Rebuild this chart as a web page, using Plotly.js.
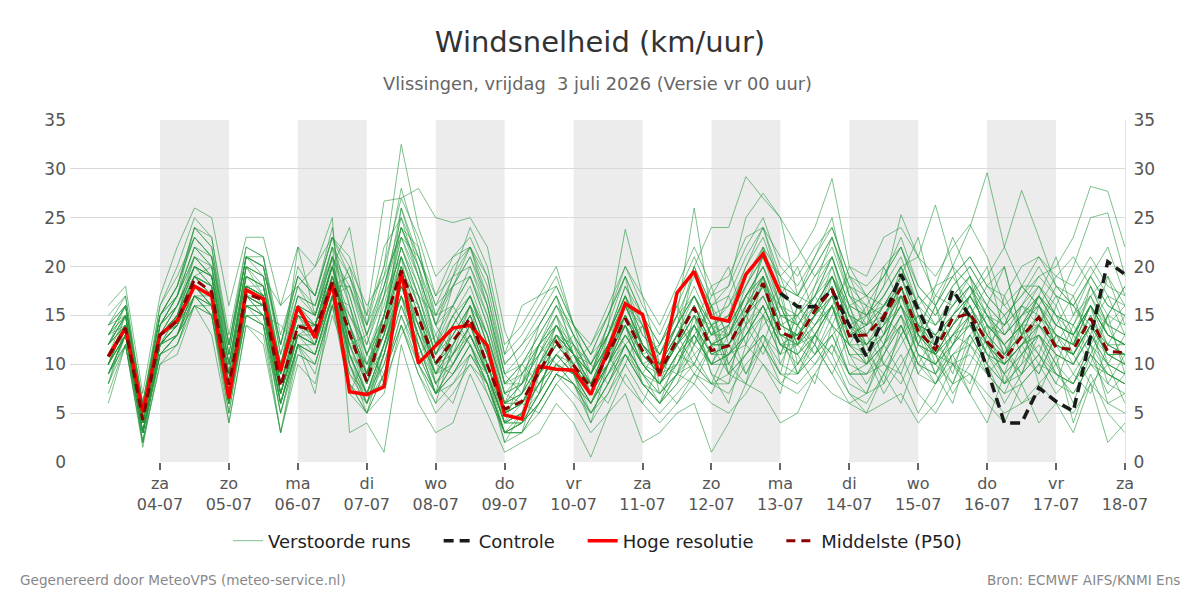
<!DOCTYPE html>
<html><head><meta charset="utf-8">
<script src="https://cdn.plot.ly/plotly-3.0.1.min.js"></script>
<style>html,body{margin:0;padding:0;background:#fff}#chart{width:1200px;height:600px}</style>
</head><body><div id="chart"></div>
<script>
// ---- data ----
const startTime = '2026-07-03T06:00:00Z';
const stepHours = 6;

const hiresValues = [10.8,13.7,5.1,13.0,14.5,18.0,17.0,6.5,17.6,16.7, 9.3,15.9,12.7,18.3,7.2,6.9,7.7,19.5,10.1,11.9,
  13.7,14.0,11.9,4.8,4.4,9.8,9.5,9.4,6.9,11.5, 16.2,15.1,8.8,17.3,19.5,14.8,14.4,19.2,21.3,17.3];

const controlStartIndex = 39;
const controlValues = [17.3,15.9,15.9,17.6,14.0,10.8,14.8,19.2,15.6,12.0,17.6,14.9,9.5,4.0,4.0,7.6,6.2,5.2,12.8,20.5,19.2];

const medianValues = [10.8,13.7,4.3,13.0,14.4,18.7,17.4,7.9,17.2,16.6, 7.7,13.9,13.4,18.4,13.2,8.2,14.0,19.6,14.8,10.1,
  12.4,14.7,9.9,5.4,6.2,9.2,12.3,9.9,7.6,11.0, 14.7,11.4,9.2,12.5,15.8,11.4,11.9,15.2,18.3,13.3,
  12.5,15.5,17.7,12.9,13.0,14.9,17.8,13.4,11.5,14.7, 15.2,12.3,10.5,12.8,14.8,11.7,11.5,14.7,11.3,11.2];

const member01 = [11,14,4,13,15,19,18,8,18,17,8,14,13,19, 13,8,14,20,15,10,12,15,10,5, 6,9,12,10,8,11,15,11,9,13, 16,12,12,15,18,13,13,15,18,13, 13,15,18,12,10,13,15,11,10,12, 15,12,11,15,11,11];
const member02 = [9,13,3,12,14,17,16,6,16,15,6,12,12,17, 18,12,17,26,21,16,18,19,15,8, 10,13,16,12,9,14,23.8,17,10,14, 17,14,15,20,24,18,17,21,25,17, 16,15,18,13,11,14,17,14,12,14, 16,13,12,16,13,12];
const member03 = [13,16,6,15,17,22,20,10,20,19,10,17,16,21, 10,6,9,15,10,7,9,12,8,3, 4,6,9,8,5,8,12,8,6,8, 10,8,7,10,12,9,8,10,12,8, 7,8,11,7,5,8,9,7,5,6, 8,6,5,8,6,5];
const member04 = [8,12,2,10,12,16,15,5,15,14,5,11,10,16, 20,13,19,28,22,15,18,22,16,9, 11,14,17,13,10,14,19,15,12,15, 19,16,18,25,27.5,25,22,19,21,15, 14,16,19,14,12,15,17,14,12,14, 17,14,13,16,13,12];
const member05 = [12,15,5,14,17,24,22,11,21,20,11,18,15,22, 8,5,7,14,9,5,7,10,7,3, 3,5,8,6,3,5,9,6,4,6, 8,6,5,7,10,8,7,9,12,9, 10,12,15,12,11,14,17,15,14,18, 18,16,20,25,25.5,19];
const member06 = [10,14,3,12,13,18,17,7,17,16,7,13,14,18, 18,14,20,32.5,24,19,21,22,19,11, 16,17,20,14,11,13,17,12,9,12, 14,11,11,14,16,12,11,13,16,11, 10,12,14,10,8,11,13,10,8,10, 12,9,8,11,9,8];
const member07 = [14,17,5,16,20,25,23,13,22,21,12,20,17,24, 11,7,12,18,13,9,10,14,9,4, 5,8,10,9,6,10,12,9,8,11, 13,10,11,13,16,12,13,11,14,12, 15,17,20,16,18,19,16,13,11,15, 16,19,21,18,14,16];
const member08 = [10,13,4,11,13,17,16,8,16,15,8,13,11,17, 16,11,15,22,17,11,14,17,12,6, 7,10,13,11,8,11,15,12,10,13, 16,13,15,18,21,19,21,24,29,20, 19,23,24,21,17,16,18,13,10,12, 13,10,8,12,10,9];
const member09 = [6,12,1.5,11,12,17,15,4,14,13,3,12,9,16, 12,8,13,19,14,10,11,14,10,5, 6,9,11,10,7,10,14,10,8,11, 14,10,11,13,16,12,12,14,16,13, 14,15,17,14,17,20,24,29.6,22,18, 16,14,13,17,13,12];
const member10 = [11,14,5,13,16,20,19,9,19,18,9,16,15,20, 14,9,13,21,16,10,13,16,11,6, 7,10,12,10,8,12,16,12,9,12, 15,12,13,16,18,14,13,15,17,14, 12,14,16,13,12,15,17,19,22,27.8, 23,18,16,14,12,11];
const member11 = [9,13,3,12,14,18,17,6,18,16,6,13,12,18, 19,15,26.7,27,28,25,24.5,25,22,13.5, 9,12,14,11,9,12,15,11,9,12, 14,11,12,15,17,13,12,14,16,12, 11,13,16,12,11,13,14,12,10,12, 13,11,10,13,11,10];
const member12 = [16,18,7,17,22,26,25,16,23,23,16,22,20,25, 3,4,1,12,6,3,4,9,5,1, 2,3,6,4,0.5,5,7,2,3,5, 6,1,4,8,7,4,5,9,7,6, 5,6,7,4,6,10,9,6,4,8, 4,6,3,8,2,4];
const member13 = [12,14,4,13,15,19,18,7,17,17,7,14,13,19, 14,9,15,22,17,12,14,17,12,6, 7,10,13,11,8,12,15,12,10,14, 20,24,24,29.2,27,25,17,16,14,12, 10,12,15,11,10,13,16,12,11,13, 14,12,11,14,12,11];
const member14 = [10,15,3,12,15,21,19,9,20,17,10,15,12,21, 11,7,12,18,13,9,11,14,10,5, 6,8,11,9,7,10,13,10,8,11, 14,11,12,14,17,13,13,16,19,14, 15,18,25.3,21,26.3,20,18,16,14,16, 15,13,12,16,13,12];
const member15 = [7,12,2,10,11,16,13,4,14,12,3,10,8,15, 10,6,11,17,12,8,10,13,9,4, 5,8,10,9,6,9,13,10,8,10, 13,10,10,13,16,12,11,14,17,12, 12,13,16,11,10,12,14,11,10,16, 19,20,23,28.2,27.7,22];
const member16 = [11,14,4,14,16,19,20,8,18,18,8,15,14,20, 12,8,12,19,14,9,12,15,10,5, 6,9,12,10,7,11,14,11,9,12, 15,11,12,15,17,13,13,15,18,13, 14,17,20,21,19,22,24.3,21,16,14, 14,12,11,14,11,10];
const member17 = [13,15,5,13,14,18,16,7,17,15,8,14,13,18, 15,11,14,18,13,9,14,17,13,7, 8,11,13,11,9,12,14,10,8,13, 10,14,9,11,14,16,12,10,13,15, 11,9,13,15,10,8,12,16,11,9, 14,17,13,10,15,18];
const member18 = [9,13,3,11,13,17,16,6,16,15,6,12,11,17, 8,6,12,17,14,10,9,12,7,3, 4,6,9,11,10,8,11,9,6,8, 12,14,10,13,15,11,12,13,16,10, 9,12,17,14,11,10,13,15,12,9, 11,8,7,10,9,8];
const member19 = [12,16,6,15,18,23,21,12,21,20,12,19,17,23, 16,10,15,23,19,14,19,20,16,8, 8,12,15,11,7,10,15,12,10,14, 17,13,13,17,19,15,14,16,19,15, 12,15,18,13,11,14,16,12,9,11, 14,11,10,13,10,9];
const member20 = [10,14,4,12,14,19,17,7,17,16,7,13,12,18, 11,7,10,16,12,7,10,13,9,3, 5,7,10,8,6,9,11,8,7,9, 8,12,9,14,11,15,9,13,11,16, 12,8,14,10,13,9,15,11,8,12, 9,13,10,14,8,11];
const member21 = [11,13,3,13,15,18,17,8,18,17,8,14,14,19, 13,9,14,21,17,11,13,16,11,6, 6,10,13,11,8,10,14,11,9,12, 16,12,12,15,19,14,15,17,21,16, 17,16,18,14,13,16,18,15,13,15, 18,15,14,18,15,14];
const member22 = [8,14,2,12,13,18,16,6,17,15,5,12,11,17, 9,6,10,16,11,7,9,12,8,3, 4,7,10,9,5,8,12,9,7,9, 12,16,9,8,15,18,10,12,19,16, 11,7,10,13,9,6,12,14,8,10, 16,12,9,7,12,15];
const member23 = [14,15,5,14,17,21,19,10,19,18,10,16,15,20, 24,14,22,25,19,12,16,19,14,7, 9,11,14,11,9,12,16,12,10,13, 16,12,13,16,19,14,13,15,18,13, 12,14,17,12,11,13,15,12,10,12, 14,12,11,14,11,10];
const member24 = [10,13,3,12,14,17,17,8,16,16,7,13,12,18, 11,6,11,17,12,7,10,13,9,4, 4,7,10,8,6,9,12,9,7,10, 14,9,6,12,10,7,14,12,9,6, 7,12,9,5,8,11,7,4,9,6, 7,11,4,9,5,3];
const member25 = [12,14,4,13,16,20,19,9,19,17,9,15,14,20, 13,9,15,22,18,13,16,19,14,8, 9,12,15,12,9,13,17,14,11,14, 17,13,14,17,20,15,15,18,21,16, 15,16,19,15,13,15,17,14,12,14, 17,14,13,16,13,12];
const member26 = [9,12,3,11,13,16,15,6,15,14,6,12,10,16, 7,5,9,15,11,7,9,11,8,3, 4,6,9,7,5,7,10,7,5,7, 9,12,14,9,12,17,11,8,14,18, 13,10,8,12,16,10,7,12,9,14, 11,8,13,16,10,6];
const member27 = [13,16,5,15,18,24,23,12,22,21,13,19,17,23, 19,13,18,24,20,15,19,22,17,10, 12,14,17,13,10,13,18,14,11,15, 26,15,16,20,23,18,17,20,23,18, 17,19,22,17,15,18,20,17,15,17, 19,17,16,19,16,15];
const member28 = [11,14,4,13,15,19,18,8,18,17,8,14,14,19, 14,10,14,20,15,10,12,15,11,5, 6,9,12,10,7,11,14,10,9,12, 20,16,13,18,22,19,14,11,15,20, 17,13,19,23,16,12,15,18,20,13, 10,14,17,12,15,18];
const member29 = [10,13,3,12,14,18,17,7,17,16,7,13,12,18, 12,7,12,18,14,8,11,14,9,4, 5,8,11,9,7,10,13,10,8,11, 13,16,10,8,12,9,16,13,10,7, 6,9,12,15,11,8,13,10,6,9, 13,10,6,11,15,9];
const member30 = [15,17,6,16,19,23,21,11,21,21,11,17,16,22, 17,11,16,23,18,12,15,18,13,7, 8,11,14,11,9,12,16,12,10,13, 17,13,14,17,20,15,14,17,20,15, 14,16,19,14,13,15,17,14,12,14, 16,13,12,16,12,12];
const member31 = [12,15,5,14,16,20,19,9,20,18,9,16,14,20, 15,12,18,24,19,14,11,16,13,6, 8,14,17,11,7,13,18,15,9,10, 14,18,12,16,21,17,20,15,19,14, 10,13,18,12,16,20,14,10,17,13, 11,16,12,18,14,10];
const member32 = [9,12,3,11,12,17,15,6,15,14,3,11,10,16, 9,7,8,13,16,8,6,11,9,2, 3,9,11,13,8,6,10,14,8,6, 9,7,11,15,12,8,10,13,11,7, 5,9,6,11,8,12,15,9,11,14, 8,10,14,11,7,9];
const member33 = [13,14,4,14,17,22,21,10,20,19,9,22,15,21, 16,9,13,26,20,12,18,21,17,9, 7,12,14,10,12,15,19,11,12,16, 12,17,20,14,22,16,12,18,23,17, 14,20,16,13,18,23,19,16,20,13, 17,21,15,19,22,17];
const member34 = [10,14,2,12,14,18,16,6,17,16,6,13,12,17, 11,9,17,21,12,7,14,12,8,2, 5,11,15,9,4,10,16,14,7,9, 15,9,8,16,19,10,14,17,14,9, 7,11,15,9,12,10,8,13,15,11, 9,13,11,8,10,13];
const member35 = [11,15,4,13,15,19,17,8,18,17,9,15,13,19, 13,10,11,19,17,15,16,13,10,4, 9,7,13,12,9,14,12,9,12,15, 11,13,17,12,15,13,9,12,16,19, 15,12,17,14,9,12,17,20,13,16, 14,18,16,13,19,16];
const member36 = [8,13,3,12,13,18,16,5,16,14,5,12,11,17, 7,11,9,14,9,6,12,16,9,4, 6,5,8,10,7,11,8,6,10,12, 9,8,12,9,13,11,15,12,9,13, 16,10,9,14,11,7,10,14,12,8, 10,7,9,12,6,7];
const member37 = [14,16,6,15,18,24,22,12,21,20,12,18,20,23, 20,16,19,23,21,17,19,24,20,12, 14,17,18,14,11,15,20,17,14,18, 22,18,19,23,24,21,19,22,24,19, 18,20,22,18,16,19,21,18,17,20, 21,19,18,21,18,17];
const member38 = [10,13,4,12,14,18,17,7,16,16,7,13,13,18, 12,13,8,19,13,11,15,12,9,5, 7,12,10,12,7,12,17,10,11,14, 12,10,14,17,15,11,16,14,17,12, 10,15,13,17,14,16,19,12,14,18, 16,12,15,17,19,14];
const member39 = [12,14,5,13,15,20,18,9,19,18,9,16,14,20, 10,5,11,18,15,9,12,15,11,6, 10,8,11,9,6,9,12,14,10,9, 13,10,13,15,18,16,12,15,20,14, 12,14,20,16,12,17,19,15,11,13, 17,15,11,14,17,13];
const member40 = [9,13,3,11,13,17,15,6,15,15,14,12,11,16, 14,8,15,20,11,13,10,13,9,4, 4,7,13,9,8,10,14,8,6,11, 10,14,11,12,19,12,10,13,16,11, 8,11,14,10,9,13,12,9,7,11, 13,9,8,12,9,8];
const member41 = [13,15,5,14,16,21,20,10,20,19,10,17,15,21, 17,11,15,24,22,14,16,20,15,8, 10,12,16,14,9,13,17,13,11,14, 18,14,16,19,22,17,16,19,22,17, 15,18,21,16,14,17,19,16,14,16, 18,15,14,17,14,13];
const member42 = [11,14,4,13,14,19,17,8,17,16,8,14,13,18, 10,7,12,17,10,7,8,10,8,3, 3,6,9,8,4,7,11,8,6,9, 11,8,9,11,13,10,9,11,13,9, 9,10,13,9,8,10,11,9,7,8, 10,9,7,10,8,7];
const member43 = [10,14,3,12,15,19,18,7,18,17,7,14,12,19, 12,10,13,18,16,11,15,17,13,7, 6,9,14,12,10,13,16,12,10,12, 15,14,13,17,20,16,14,17,19,15, 13,16,17,14,13,15,18,14,13,15, 17,14,13,16,14,13];
const member44 = [12,15,5,14,17,21,19,10,19,18,10,16,15,21, 18,13,17,24,20,14,18,21,16,9, 10,13,16,13,10,13,17,13,11,15, 17,14,15,18,21,16,15,17,21,16, 15,17,20,15,14,16,18,15,13,15, 17,15,13,16,13,12];
const member45 = [9,13,3,11,13,16,16,6,16,15,6,12,7,17, 8,5,9,14,10,6,8,11,8,3, 3,6,9,8,5,8,11,8,6,9, 10,8,8,11,13,9,9,11,13,9, 9,11,14,10,9,11,12,10,8,9, 11,9,8,11,9,8];
const member46 = [11,14,4,13,16,20,19,8,18,17,8,15,14,20, 14,9,15,21,16,11,14,17,12,6, 8,10,14,11,8,12,16,12,10,13, 16,12,13,17,19,14,13,16,19,14, 13,16,18,13,12,14,16,13,11,13, 15,13,12,15,12,11];
const member47 = [13,16,5,15,17,22,20,11,21,19,16,18,16,22, 19,14,18,25,21,16,20,22,18,10, 12,15,18,14,11,15,19,15,12,16, 20,16,17,21,24,19,17,20,23,18, 16,19,22,17,15,18,20,17,15,17, 20,17,16,19,16,15];
const member48 = [10,13,3,12,14,18,17,7,17,16,7,13,12,18, 11,7,11,17,13,8,11,13,9,4, 5,8,11,9,6,10,13,10,8,10, 13,10,11,13,16,12,11,13,16,11, 11,13,16,11,10,12,14,11,9,11, 13,11,10,13,10,9];
const member49 = [12,15,4,13,15,20,18,9,18,17,9,15,13,19, 13,9,13,20,16,10,13,16,11,5, 7,9,13,10,8,11,15,11,9,12, 15,12,12,15,18,13,12,15,17,13, 12,14,17,13,11,14,16,12,10,12, 14,12,11,14,11,11];
const member50 = [14,16,5,15,18,23,21,12,21,20,12,19,17,23, 21,15,20,27,23,17,21,23,19,11, 13,16,19,14,12,16,20,16,13,17, 21,17,18,22,25,20,18,21,24,19, 17,19,23,18,16,19,21,18,16,18, 21,18,17,20,17,16];

const members = [member01,member02,member03,member04,member05,member06,member07,member08,member09,member10,
  member11,member12,member13,member14,member15,member16,member17,member18,member19,member20,
  member21,member22,member23,member24,member25,member26,member27,member28,member29,member30,
  member31,member32,member33,member34,member35,member36,member37,member38,member39,member40,
  member41,member42,member43,member44,member45,member46,member47,member48,member49,member50];

const tickDates = ['2026-07-04','2026-07-05','2026-07-06','2026-07-07','2026-07-08','2026-07-09','2026-07-10','2026-07-11',
  '2026-07-12','2026-07-13','2026-07-14','2026-07-15','2026-07-16','2026-07-17','2026-07-18'];
const tickDays = ['za','zo','ma','di','wo','do','vr','za','zo','ma','di','wo','do','vr','za'];
const tickLabels = ['04-07','05-07','06-07','07-07','08-07','09-07','10-07','11-07','12-07','13-07','14-07','15-07','16-07','17-07','18-07'];
const shadedDays = ['2026-07-04','2026-07-06','2026-07-08','2026-07-10','2026-07-12','2026-07-14','2026-07-16'];
const yTicks = [0,5,10,15,20,25,30,35];

// ---- build ----
function fmt(d){const p=n=>String(n).padStart(2,'0');return d.getUTCFullYear()+'-'+p(d.getUTCMonth()+1)+'-'+p(d.getUTCDate())+' '+p(d.getUTCHours())+':'+p(d.getUTCMinutes());}
const t0 = new Date(startTime).getTime();
const times = medianValues.map((_,i)=>fmt(new Date(t0 + i*stepHours*3600000)));
function nextDay(s){const d=new Date(s+'T00:00:00Z');d.setUTCDate(d.getUTCDate()+1);return fmt(d);}
const gap = '\u00a0\u00a0\u00a0\u00a0';

const traces = [];
members.forEach((m,i)=>{
  traces.push({x:times, y:m, type:'scatter', mode:'lines', name:'Verstoorde runs'+gap, legendgroup:'ens',
    showlegend:i===0, hoverinfo:'skip', line:{color:'rgba(38,152,62,0.6)', width:1}});
});
traces.push({x:times.slice(controlStartIndex, controlStartIndex+controlValues.length), y:controlValues, type:'scatter', mode:'lines',
  name:'Controle'+gap, line:{color:'#1a1a1a', width:3.5, dash:'10px,6px'}});
traces.push({x:times.slice(0, hiresValues.length), y:hiresValues, type:'scatter', mode:'lines',
  name:'Hoge resolutie'+gap, line:{color:'#ff0000', width:3.5}});
traces.push({x:times, y:medianValues, type:'scatter', mode:'lines',
  name:'Middelste (P50)', line:{color:'#8b0000', width:3, dash:'9px,6px'}});
traces.push({x:[times[0]], y:[null], yaxis:'y2', showlegend:false, hoverinfo:'skip', mode:'lines'});

const shapes = shadedDays.map(d=>({type:'rect', xref:'x', yref:'paper', x0:d+' 00:00', x1:nextDay(d), y0:0, y1:1,
  fillcolor:'#ececec', line:{width:0}, layer:'below'}));

const font = 'DejaVu Sans, sans-serif';
const layout = {
  width:1200, height:600,
  margin:{l:70, r:75, t:120, b:138},
  paper_bgcolor:'#fff', plot_bgcolor:'#fff',
  font:{family:font, color:'#555', size:16},
  title:{text:'Windsnelheid (km/uur)', x:0.5, xanchor:'center', y:0.93, yanchor:'middle', yref:'container',
    font:{family:font, size:29, color:'#333'}},
  xaxis:{type:'date', range:['2026-07-02 16:40','2026-07-18 00:00'], tickvals:tickDates.map(d=>d+' 00:00'),
    ticktext:tickDays.map((d,i)=>d+'<br>'+tickLabels[i]), ticks:'outside', ticklen:7, tickwidth:2, tickcolor:'#666',
    showgrid:false, zeroline:false, showline:false, tickfont:{size:16, color:'#555'}, fixedrange:true},
  yaxis:{range:[0,35], tickvals:yTicks, showgrid:true, gridcolor:'#d9d9d9', gridwidth:1, zeroline:false,
    ticks:'', tickfont:{size:17, color:'#555'}, showline:false, fixedrange:true, ticklabelstandoff:3},
  yaxis2:{range:[0,35], tickvals:yTicks, overlaying:'y', side:'right', showgrid:false, zeroline:false,
    ticks:'', tickfont:{size:17, color:'#555'}, showline:true, linecolor:'#e3e3e3', linewidth:1, fixedrange:true,
    ticklabelstandoff:4},
  shapes:shapes,
  legend:{orientation:'h', x:0.5, xanchor:'center', y:-0.231, yanchor:'middle', font:{size:18, color:'#222'},
    bgcolor:'rgba(0,0,0,0)'},
  annotations:[
    {text:'Vlissingen, vrijdag\u00a0 3 juli 2026 (Versie vr 00 uur)', xref:'paper', yref:'paper', x:0.5, y:1.108,
      xanchor:'center', yanchor:'middle', showarrow:false, font:{size:17.8, color:'#666'}},
    {text:'Gegenereerd door MeteoVPS (meteo-service.nl)', xref:'paper', yref:'paper', x:-0.0493, y:-0.345,
      xanchor:'left', yanchor:'middle', showarrow:false, font:{size:13.6, color:'#888'}},
    {text:'Bron: ECMWF AIFS/KNMI Ens', xref:'paper', yref:'paper', x:1.054, y:-0.345,
      xanchor:'right', yanchor:'middle', showarrow:false, font:{size:13.6, color:'#888'}}
  ],
  showlegend:true, hovermode:false
};
Plotly.newPlot('chart', traces, layout, {displayModeBar:false, staticPlot:true});
</script></body></html>
